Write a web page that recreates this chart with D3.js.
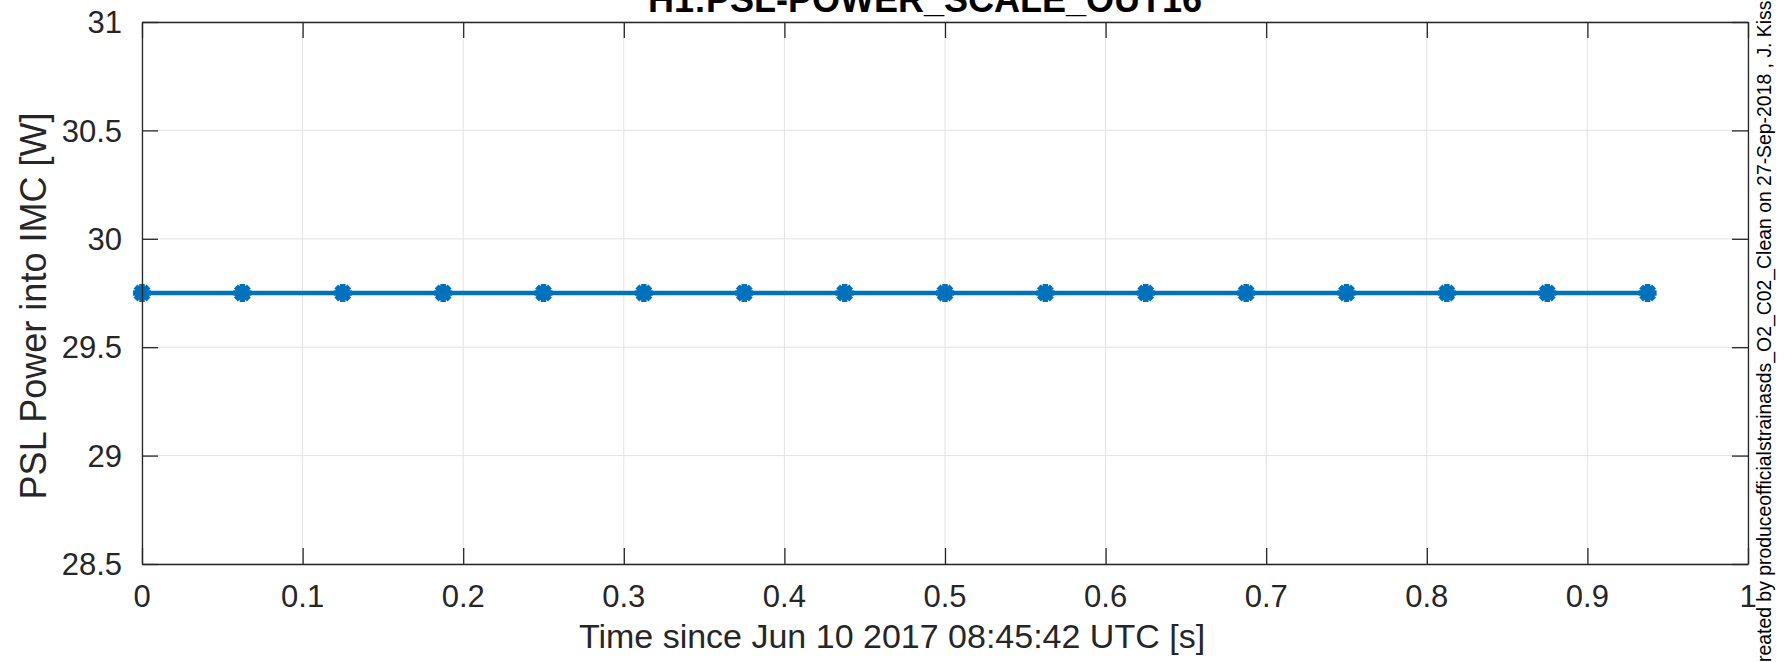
<!DOCTYPE html>
<html>
<head>
<meta charset="utf-8">
<script src="https://cdn.jsdelivr.net/npm/d3@7"></script>
<style>
  html, body { margin: 0; padding: 0; background: #ffffff; }
  svg { display: block; }
  text { font-family: "Liberation Sans", Arial, Helvetica, sans-serif; }
</style>
</head>
<body>
<svg id="chart" width="1790" height="662"></svg>
<script>
// ---- data ----
const timeSec = [0, 0.0625, 0.125, 0.1875, 0.25, 0.3125, 0.375, 0.4375, 0.5, 0.5625, 0.625, 0.6875, 0.75, 0.8125, 0.875, 0.9375];
const powerW  = [29.75, 29.75, 29.75, 29.75, 29.75, 29.75, 29.75, 29.75, 29.75, 29.75, 29.75, 29.75, 29.75, 29.75, 29.75, 29.75];
const xTicks = [0, 0.1, 0.2, 0.3, 0.4, 0.5, 0.6, 0.7, 0.8, 0.9, 1];
const xTickLabels = ["0", "0.1", "0.2", "0.3", "0.4", "0.5", "0.6", "0.7", "0.8", "0.9", "1"];
const yTicks = [28.5, 29, 29.5, 30, 30.5, 31];
const yTickLabels = ["28.5", "29", "29.5", "30", "30.5", "31"];
const titleText = "H1:PSL-POWER_SCALE_OUT16";
const xLabelText = "Time since Jun 10 2017 08:45:42 UTC [s]";
const yLabelText = "PSL Power into IMC [W]";
const creditText = "Created by produceofficialstrainasds_O2_C02_Clean on 27-Sep-2018 , J. Kissel";

// ---- layout ----
const L = 142, R = 1748, T = 22, B = 564;
const axisColor = "#262626";
const gridColor = "#e3e3e3";
const lineColor = "#0072BD";
const tickLen = 16;

const svg = d3.select("#chart");
const x = d3.scaleLinear().domain([0, 1]).range([L, R]);
const y = d3.scaleLinear().domain([28.5, 31]).range([B, T]);

// grid
const grid = svg.append("g");
grid.selectAll("line.gx").data(xTicks).enter().append("line")
  .attr("x1", d => x(d)).attr("x2", d => x(d)).attr("y1", T).attr("y2", B)
  .attr("stroke", gridColor).attr("stroke-width", 1);
grid.selectAll("line.gy").data(yTicks).enter().append("line")
  .attr("y1", d => y(d)).attr("y2", d => y(d)).attr("x1", L).attr("x2", R)
  .attr("stroke", gridColor).attr("stroke-width", 1);

// data line
const line = d3.line().x((d, i) => x(timeSec[i])).y(d => y(d));
svg.append("path").datum(powerW)
  .attr("d", line).attr("fill", "none")
  .attr("stroke", lineColor).attr("stroke-width", 4.5);

// markers ('*' style, heavy)
const mk = svg.append("g").attr("stroke", lineColor).attr("stroke-width", 5.5).attr("fill", "none");
powerW.forEach((v, i) => {
  const cx = x(timeSec[i]), cy = y(v);
  const a = 9, b = 6.5;
  mk.append("path").attr("d",
    `M${cx - a},${cy}L${cx + a},${cy}M${cx},${cy - a}L${cx},${cy + a}` +
    `M${cx - b},${cy - b}L${cx + b},${cy + b}M${cx - b},${cy + b}L${cx + b},${cy - b}`);
});

// axes (box with inward ticks on all sides)
const ax = svg.append("g");
const xAxisB = d3.axisBottom(x).tickValues(xTicks).tickSize(-tickLen).tickFormat("");
const xAxisT = d3.axisTop(x).tickValues(xTicks).tickSize(-tickLen).tickFormat("");
const yAxisL = d3.axisLeft(y).tickValues(yTicks).tickSize(-tickLen).tickFormat("");
const yAxisR = d3.axisRight(y).tickValues(yTicks).tickSize(-tickLen).tickFormat("");
[[xAxisB, `translate(0,${B})`], [xAxisT, `translate(0,${T})`],
 [yAxisL, `translate(${L},0)`], [yAxisR, `translate(${R},0)`]].forEach(([a, tr]) => {
  const g = ax.append("g").attr("transform", tr).call(a.tickSizeOuter(0));
  g.selectAll("path.domain").attr("stroke", axisColor).attr("stroke-width", 1.3);
  g.selectAll(".tick line").attr("stroke", axisColor).attr("stroke-width", 1.3);
});

// tick labels
svg.append("g").selectAll("text").data(xTicks).enter().append("text")
  .attr("x", d => x(d)).attr("y", 607)
  .attr("text-anchor", "middle").attr("font-size", 31).attr("fill", axisColor)
  .text((d, i) => xTickLabels[i]);
svg.append("g").selectAll("text").data(yTicks).enter().append("text")
  .attr("x", L - 20).attr("y", d => y(d)).attr("dy", "0.36em")
  .attr("text-anchor", "end").attr("font-size", 31).attr("fill", axisColor)
  .text((d, i) => yTickLabels[i]);

// labels
svg.append("text").attr("x", 892).attr("y", 648)
  .attr("text-anchor", "middle").attr("font-size", 34).attr("fill", axisColor)
  .text(xLabelText);
svg.append("text").attr("transform", "translate(46,306) rotate(-90)")
  .attr("text-anchor", "middle").attr("font-size", 36).attr("fill", axisColor)
  .text(yLabelText);
svg.append("text").attr("x", 925).attr("y", 12)
  .attr("text-anchor", "middle").attr("font-size", 36).attr("font-weight", "bold").attr("fill", "#000")
  .text(titleText);
svg.append("text").attr("transform", "translate(1771,676) rotate(-90)")
  .attr("text-anchor", "start").attr("font-size", 19.4).attr("fill", "#000")
  .text(creditText);
</script>
</body>
</html>
